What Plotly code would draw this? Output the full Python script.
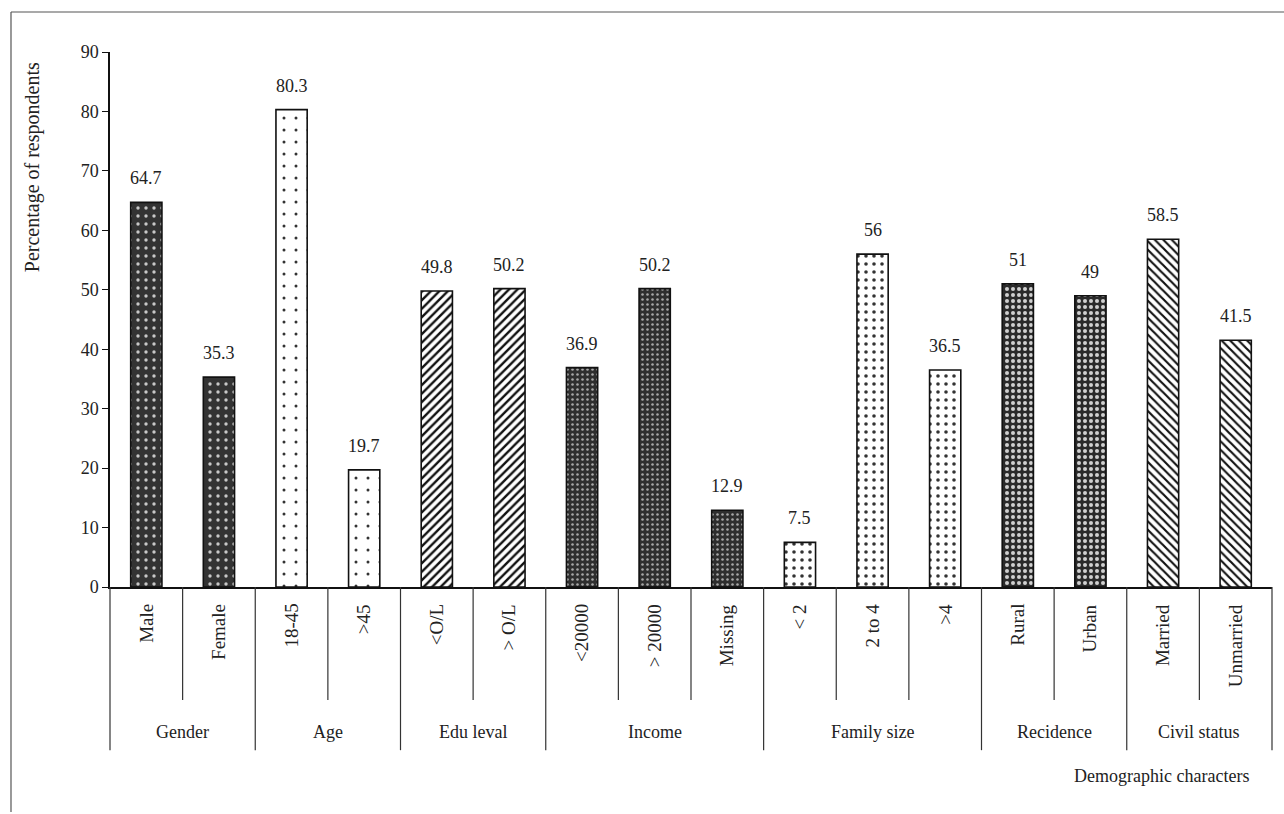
import plotly.graph_objects as go

# Demographic breakdown of respondents (percent)
categories = ["Male", "Female", "18-45", ">45", "<O/L", "> O/L",
              "<20000", "> 20000", "Missing", "< 2", "2 to 4", ">4",
              "Rural", "Urban", "Married", "Unmarried"]
values = [64.7, 35.3, 80.3, 19.7, 49.8, 50.2, 36.9, 50.2, 12.9,
          7.5, 56, 36.5, 51, 49, 58.5, 41.5]
groups = ["Gender", "Age", "Edu leval", "Income", "Family size",
          "Recidence", "Civil status"]
group_sizes = [2, 2, 2, 3, 3, 2, 2]
y_ticks = [0, 10, 20, 30, 40, 50, 60, 70, 80, 90]

# fill style for each group: (bg, fg, shape, size, solidity)
group_styles = [
    ("#333333", "#c8c8c8", ".", 8, 0.14),
    ("#ffffff", "#333333", ".", 12, 0.05),
    ("#ffffff", "#111111", "/", 6, 0.4),
    ("#2e2e2e", "#a8a8a8", ".", 5, 0.2),
    ("#ffffff", "#333333", ".", 8, 0.16),
    ("#2a2a2a", "#d0d0d0", ".", 6, 0.36),
    ("#ffffff", "#111111", "\\", 6, 0.36),
]

n_cat = len(categories)
FONT = "Liberation Serif"
INK = "#222222"

fig = go.Figure()
start = 0
for g, n, st in zip(groups, group_sizes, group_styles):
    bg, fg, shp, sz, sol = st
    idx = list(range(start, start + n))
    fig.add_trace(go.Bar(
        x=idx, y=[values[i] for i in idx], width=0.43, name=g,
        marker=dict(
            color=bg,
            line=dict(color="#111111", width=1.6),
            pattern=dict(shape=shp, size=sz, solidity=sol,
                         fgcolor=fg, bgcolor=bg, fillmode="replace"),
        ),
        hovertext=[categories[i] for i in idx], hoverinfo="text+y",
    ))
    start += n

annotations = []
# value labels above bars
for x, v in enumerate(values):
    annotations.append(dict(x=x, y=v, xref="x", yref="y", text=f"{v:g}",
                            showarrow=False, yanchor="bottom", yshift=12,
                            font=dict(family=FONT, size=18, color=INK)))

# category labels (rotated) under the axis
for i, c in enumerate(categories):
    annotations.append(dict(x=(i + 0.5) / n_cat, y=-0.028, xref="paper", yref="paper",
                            text=c, textangle=-90, showarrow=False,
                            xanchor="center", yanchor="top",
                            font=dict(family=FONT, size=19, color=INK)))

shapes = []
line_style = dict(color="#333333", width=1.2)
# group boundaries and group labels
start = 0
bounds = [0]
for g, n in zip(groups, group_sizes):
    mid = (start + n / 2) / n_cat
    annotations.append(dict(x=mid, y=-0.271, xref="paper", yref="paper",
                            text=g, showarrow=False,
                            xanchor="center", yanchor="middle",
                            font=dict(family=FONT, size=18, color=INK)))
    for k in range(1, n):
        xp = (start + k) / n_cat
        shapes.append(dict(type="line", xref="paper", yref="paper",
                           x0=xp, x1=xp, y0=0, y1=-0.211, line=line_style))
    start += n
    bounds.append(start)
for b in bounds:
    xp = b / n_cat
    shapes.append(dict(type="line", xref="paper", yref="paper",
                       x0=xp, x1=xp, y0=0, y1=-0.305, line=line_style))

# outer frame (left and top edges)
shapes.append(dict(type="line", xref="paper", yref="paper",
                   x0=-0.0852, x1=-0.0852, y0=1.0748, y1=-0.4206,
                   line=dict(color="#555555", width=1.2)))
shapes.append(dict(type="line", xref="paper", yref="paper",
                   x0=-0.0852, x1=1.02, y0=1.0748, y1=1.0748,
                   line=dict(color="#555555", width=1.2)))

annotations.append(dict(x=0.905, y=-0.353, xref="paper", yref="paper",
                        text="Demographic characters", showarrow=False,
                        xanchor="center", yanchor="middle",
                        font=dict(family=FONT, size=18, color=INK)))
annotations.append(dict(x=-0.067, y=0.785, xref="paper", yref="paper",
                        text="Percentage of respondents", textangle=-90,
                        showarrow=False, xanchor="center", yanchor="middle",
                        font=dict(family=FONT, size=20, color=INK)))

fig.update_layout(
    width=1284, height=814,
    margin=dict(l=110, r=12, t=52, b=227),
    paper_bgcolor="white", plot_bgcolor="white",
    showlegend=False,
    barmode="overlay",
    xaxis=dict(range=[-0.5, n_cat - 0.5], showticklabels=False, ticks="",
               showgrid=False, zeroline=False, showline=True,
               linecolor="#111111", linewidth=1.5, fixedrange=True),
    yaxis=dict(range=[0, 90], tickvals=y_ticks, ticks="outside", ticklen=6,
               tickcolor="#111111", showgrid=False, zeroline=False,
               showline=True, linecolor="#111111", linewidth=1.5,
               tickfont=dict(family=FONT, size=18, color=INK)),
    annotations=annotations,
    shapes=shapes,
)

fig.write_html("out.html")
